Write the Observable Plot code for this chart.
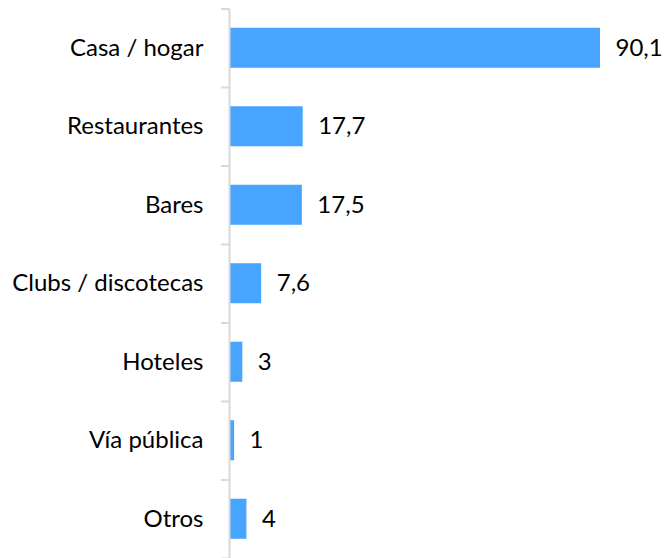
<!DOCTYPE html>
<html>
<head>
<meta charset="utf-8">
<script src="https://cdn.jsdelivr.net/npm/d3@7"></script>
<script src="https://cdn.jsdelivr.net/npm/@observablehq/plot@0.6"></script>
<style>
  html, body { margin: 0; padding: 0; background: #fff; }
</style>
</head>
<body>
<div id="chart"></div>
<script>
const categories = ["Casa / hogar", "Restaurantes", "Bares", "Clubs / discotecas", "Hoteles", "Vía pública", "Otros"];
const values = [90.1, 17.7, 17.5, 7.6, 3, 1, 4];

const data = categories.map((c, i) => ({i, category: c, value: values[i]}));
const idx = categories.map((_, i) => i);
const bounds = [...idx.map(i => i - 0.5), categories.length - 0.5];
const half = 0.255;
const fmt = v => String(v).replace(".", ",");
const font = "Lato, 'Open Sans', sans-serif";

const chart = Plot.plot({
  width: 666,
  height: 558,
  marginTop: 8.5,
  marginBottom: 0,
  marginLeft: 230,
  marginRight: 66,
  style: {fontFamily: font, fontSize: "24px", color: "#000", background: "#fff"},
  x: {type: "linear", domain: [0, d3.max(values)], axis: null},
  y: {type: "linear", domain: [-0.5, categories.length - 0.5], reverse: true, axis: null},
  marks: [
    Plot.rect(data, {x1: 0, x2: "value", y1: d => d.i - half, y2: d => d.i + half, fill: "#47a5ff"}),
    Plot.ruleX([0], {y1: -0.5, y2: categories.length - 0.5, stroke: "#d9d9d9", strokeWidth: 2, dx: -1}),
    Plot.axisY({ticks: bounds, tickSize: 8, tickFormat: () => "", label: null, stroke: "#d9d9d9", strokeWidth: 2, dx: -1}),
    Plot.text(data, {x: 0, y: "i", text: "category", dx: -27, textAnchor: "end", fontSize: 24, fill: "#000"}),
    Plot.text(data, {x: "value", y: "i", text: d => fmt(d.value), dx: 15, textAnchor: "start", fontSize: 24, fill: "#000"})
  ]
});
document.getElementById("chart").appendChild(chart);
</script>
</body>
</html>
